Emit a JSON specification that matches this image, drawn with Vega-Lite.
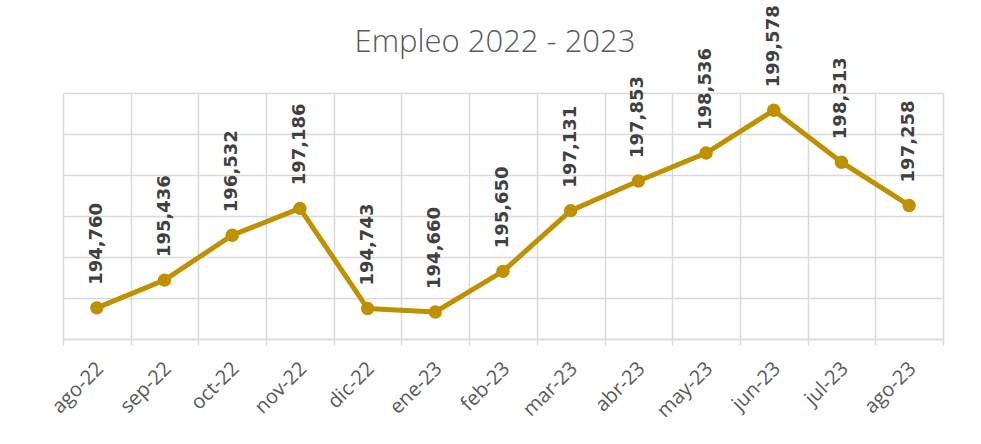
{
  "$schema": "https://vega.github.io/schema/vega-lite/v6.json",
  "autosize": {"type": "none"},
  "padding": {"left": 63, "top": 93, "right": 38, "bottom": 105},
  "width": 880,
  "height": 246,
  "background": "#ffffff",
  "title": {
    "text": "Empleo 2022 - 2023",
    "font": "Open Sans",
    "fontWeight": 300,
    "fontSize": 31,
    "color": "#595959",
    "anchor": "middle",
    "dx": -8,
    "dy": 58
  },
  "config": {
    "view": {"stroke": null}
  },
  "data": {
    "values": [
      {"mes": "ago-22", "empleo": 194760},
      {"mes": "sep-22", "empleo": 195436},
      {"mes": "oct-22", "empleo": 196532},
      {"mes": "nov-22", "empleo": 197186},
      {"mes": "dic-22", "empleo": 194743},
      {"mes": "ene-23", "empleo": 194660},
      {"mes": "feb-23", "empleo": 195650},
      {"mes": "mar-23", "empleo": 197131},
      {"mes": "abr-23", "empleo": 197853},
      {"mes": "may-23", "empleo": 198536},
      {"mes": "jun-23", "empleo": 199578},
      {"mes": "jul-23", "empleo": 198313},
      {"mes": "ago-23", "empleo": 197258}
    ]
  },
  "encoding": {
    "x": {
      "field": "mes",
      "type": "nominal",
      "sort": null,
      "scale": {"paddingInner": 0, "paddingOuter": 0},
      "axis": {
        "title": null,
        "tickBand": "extent",
        "grid": true,
        "gridColor": "#d9d9d9",
        "gridWidth": 1.5,
        "domainColor": "#d9d9d9",
        "domainWidth": 1.5,
        "tickColor": "#d9d9d9",
        "tickWidth": 1.5,
        "tickSize": 6,
        "labelAngle": -45,
        "labelAlign": "right",
        "labelBaseline": "top",
        "labelPadding": 13,
        "labelOffset": -4,
        "labelFont": "Open Sans",
        "labelFontSize": 20,
        "labelColor": "#595959"
      }
    },
    "y": {
      "field": "empleo",
      "type": "quantitative",
      "scale": {"domain": [194000, 200000], "nice": false, "zero": false},
      "axis": {
        "title": null,
        "labels": false,
        "ticks": false,
        "domain": false,
        "values": [194000, 195000, 196000, 197000, 198000, 199000, 200000],
        "gridColor": "#d9d9d9",
        "gridWidth": 1.5
      }
    }
  },
  "layer": [
    {
      "mark": {"type": "line", "color": "#bf9000", "strokeWidth": 5}
    },
    {
      "mark": {"type": "point", "filled": true, "color": "#bf9000", "size": 180, "opacity": 1}
    },
    {
      "mark": {
        "type": "text",
        "angle": 270,
        "align": "left",
        "baseline": "middle",
        "dx": 23,
        "font": "DejaVu Sans",
        "fontWeight": "bold",
        "fontSize": 18,
        "color": "#404040"
      },
      "encoding": {
        "text": {"field": "empleo", "type": "quantitative", "format": ","}
      }
    }
  ]
}
